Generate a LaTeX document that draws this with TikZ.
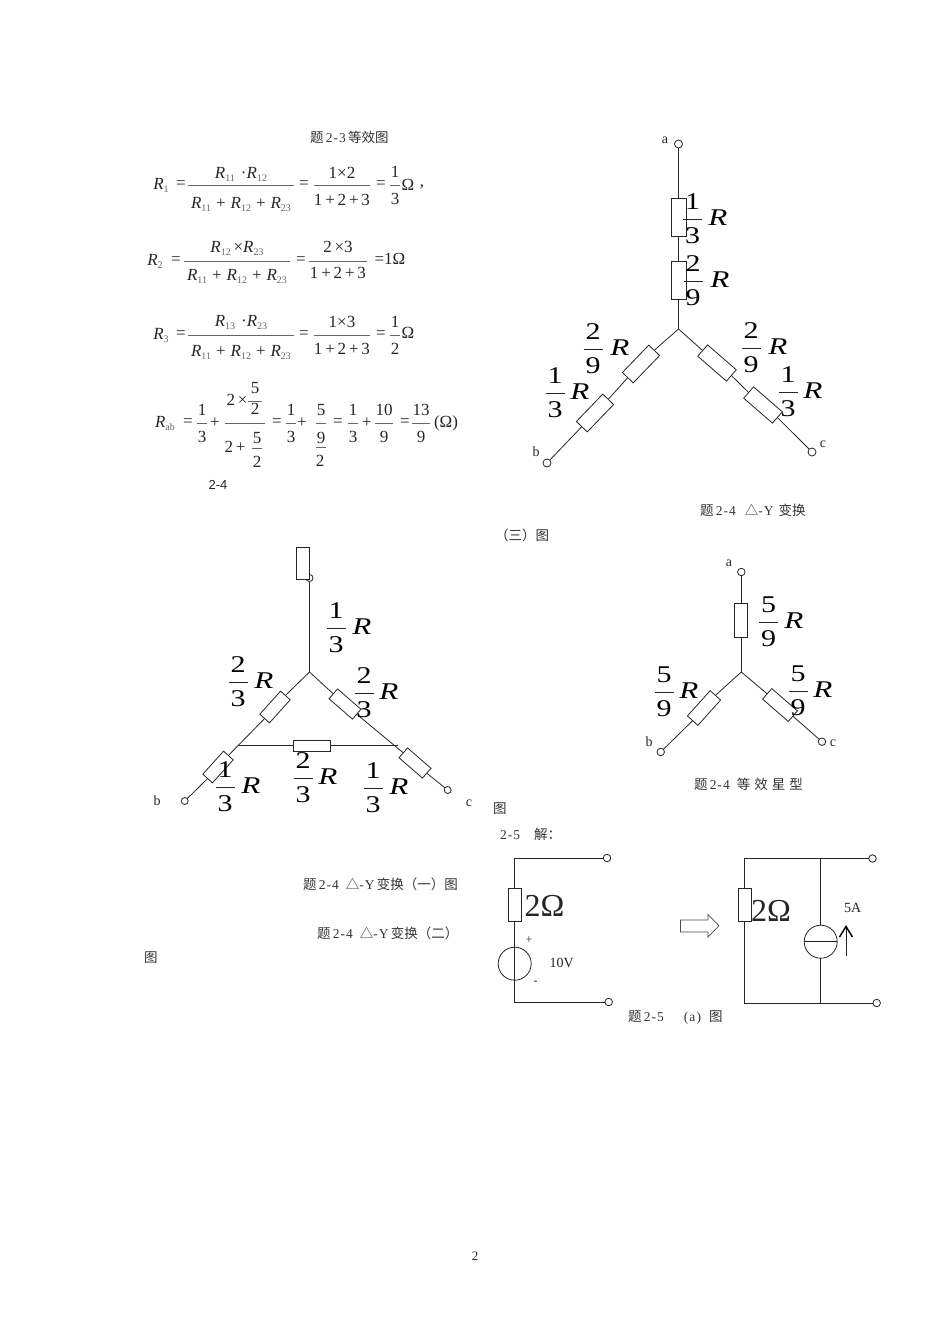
\documentclass[tikz,border=0pt]{standalone}
\usepackage{fontspec}
\setmainfont{Liberation Serif}
\newfontfamily\cjk{Noto Sans CJK SC}
\newfontfamily\mnf[LetterSpace=8]{Liberation Serif}
\newfontfamily\ars{Liberation Sans}
\newfontfamily\wdd[FakeStretch=1.25]{Liberation Serif}
\newfontfamily\wdr[FakeStretch=1.3]{Liberation Serif}
\newcount\mynn
\newcommand\fsz[1]{\fontsize{#1}{#1}\selectfont}
\newcommand\tx[3]{\global\advance\mynn by 1 \node[txt] (t\the\mynn) at (#1,#2) {#3};}
\newcommand\capt[3]{\global\advance\mynn by 1 \node[captxt] (t\the\mynn) at (#1,#2) {#3};}
\newcommand\rsb[1]{{\itshape R}\raisebox{-3pt}{\fsz{10}\color{black!60}#1}}
\newcommand\pls{\hspace{5pt}+\hspace{5pt}}
% fraction with small digits: centre x, bar y, half width, num, den, num offset, den offset
\newcommand\smfr[7]{\draw[mathbar] (#1-#3,#2) -- (#1+#3,#2); \tx{#1}{#2-#6}{#4} \tx{#1}{#2+#7}{#5}}
% large fraction label: bar centre x, bar y, R centre x, num, den
\newcommand\lbl[5]{\global\advance\mynn by 1
  \node[bigd] (t\the\mynn a) at (#1,#2-17) {#4};
  \node[bigd] (t\the\mynn b) at (#1,#2+16.5) {#5};
  \draw[bigbar] (#1-9.5,#2) -- (#1+9.5,#2);
  \node[bigr] (t\the\mynn c) at (#3,#2-1) {R};}
\tikzset{
  txt/.style={inner sep=0pt,outer sep=0pt,text=black!85,font=\fsz{17}},
  captxt/.style={inner sep=0pt,outer sep=0pt,anchor=west,text=black!80,font=\fsz{13.5}},
  smalltxt/.style={inner sep=0pt,outer sep=0pt,text=black!85,font=\fsz{13}},
  mathbar/.style={line width=.5pt,black!60},
  bigbar/.style={line width=.9pt,black!85},
  bigd/.style={inner sep=0pt,outer sep=0pt,font=\wdd\fsz{24}},
  bigr/.style={inner sep=0pt,outer sep=0pt,font=\wdr\itshape\fsz{24}},
  wire/.style={line width=.8pt,black!85},
  res/.style={draw=black!85,line width=.8pt,fill=white,rectangle,inner sep=0pt,outer sep=0pt,minimum width=#1},
  res/.default=38pt,
  term/.style={draw=black!85,line width=.8pt,fill=white,circle,inner sep=0pt,outer sep=0pt,minimum size=8pt},
  src/.style={draw=black!85,line width=.8pt,circle,inner sep=0pt,outer sep=0pt,minimum size=33pt},
}
\begin{document}
\begin{tikzpicture}[x=1pt,y=-1pt]
\fill[white] (0,0) rectangle (950,1344);
\useasboundingbox (0,0) rectangle (950,1344);

% ---------- captions
\capt{310}{137}{{\cjk 题}\,{\mnf 2-3}\,{\cjk 等效图}}
\global\advance\mynn by 1 \node[smalltxt,font=\ars\fsz{13}] (t\the\mynn) at (218,485) {2-4};
\capt{700}{510}{{\cjk 题}\,{\mnf 2-4}\hspace{9pt}{\cjk △}{\mnf -Y}\hspace{5pt}{\cjk 变换}}
\capt{495}{535}{{\cjk （三）图}}
\capt{303}{884}{{\cjk 题}\,{\mnf 2-4}\hspace{7pt}{\cjk △}{\mnf -Y}\,{\cjk 变换（一）图}}
\capt{317}{933}{{\cjk 题}\,{\mnf 2-4}\hspace{7pt}{\cjk △}{\mnf -Y}\,{\cjk 变换（二）}}
\capt{144}{958}{{\cjk 图}}
\capt{493}{809}{{\cjk 图}}
\capt{500}{834}{{\mnf 2-5}\hspace{14pt}{\cjk 解：}}
\capt{694}{784}{{\cjk 题}\,{\mnf 2-4}\hspace{7pt}{\cjk 等\hspace{4pt}效\hspace{4pt}星\hspace{4pt}型}}
\capt{628}{1018}{{\cjk 题}\,{\mnf 2-5}\hspace{20pt}{\mnf (a)}\hspace{8pt}{\cjk 图}}
\global\advance\mynn by 1 \node[smalltxt] (t\the\mynn) at (475,1256) {2};

% ---------- equations
\tx{161}{185}{\rsb{1}} \tx{181}{185}{=}
\smfr{241}{185}{53}{\rsb{11}\hspace{6pt}·\rsb{12}}{\rsb{11}\pls\rsb{12}\pls\rsb{23}}{11}{19}
\tx{304}{185}{=}
\smfr{342}{185}{28}{1×2}{1\,+\,2\,+\,3}{12}{15}
\tx{381}{185}{=} \smfr{395}{185}{5}{1}{3}{13}{14} \tx{408}{185}{Ω} \tx{422}{187}{,}

\tx{155}{261}{\rsb{2}} \tx{176}{261}{=}
\smfr{237}{261}{53}{\rsb{12}\,×\rsb{23}}{\rsb{11}\pls\rsb{12}\pls\rsb{23}}{13}{15}
\tx{301}{261}{=}
\smfr{338}{261}{29}{2\,×3}{1\,+\,2\,+\,3}{14}{12}
\tx{390}{259}{=1Ω}

\tx{161}{335}{\rsb{3}} \tx{181}{335}{=}
\smfr{241}{335}{53}{\rsb{13}\hspace{6pt}·\rsb{23}}{\rsb{11}\pls\rsb{12}\pls\rsb{23}}{13}{17}
\tx{304}{335}{=}
\smfr{342}{335}{28}{1×3}{1\,+\,2\,+\,3}{13}{14}
\tx{381}{335}{=} \smfr{395}{335}{5}{1}{2}{13}{14} \tx{408}{333}{Ω}

\tx{165}{423}{\rsb{ab}} \tx{188}{423}{=}
\smfr{202}{423}{5}{1}{3}{13}{14} \tx{215}{423}{+}
\draw[mathbar] (225,423) -- (265,423);
\tx{237}{400}{2\,×}
\smfr{255}{401}{7}{5}{2}{13}{8}
\tx{235}{447}{2\,+}
\smfr{257}{448}{5}{5}{2}{10}{14}
\tx{277}{423}{=}
\smfr{291}{423}{5}{1}{3}{13}{14} \tx{302}{423}{+}
\smfr{321}{423}{5}{5}{9}{13}{15}
\draw[mathbar] (316,447) -- (326,447);
\tx{320}{461}{2}
\tx{338}{423}{=}
\smfr{353}{423}{5}{1}{3}{13}{14} \tx{367}{423}{+}
\smfr{384}{423}{9}{10}{9}{13}{14}
\tx{405}{423}{=}
\smfr{421}{423}{9}{13}{9}{13}{14}
\tx{446}{423}{(Ω)}

% ---------- figure: top right star
\node[term] (a1) at (678.5,144) {};
\node[term] (b1) at (547,463) {};
\node[term] (c1) at (812,452) {};
\coordinate (o1) at (678.5,329);
\node[res=38pt,minimum height=15pt,rotate=90] (r1a) at (678.5,217) {};
\node[res=38pt,minimum height=15pt,rotate=90] (r1b) at (678.5,280) {};
\node[res=38pt,minimum height=15pt,rotate=46] (r1c) at (641,364) {};
\node[res=38pt,minimum height=15pt,rotate=46] (r1d) at (595,413) {};
\node[res=38pt,minimum height=15pt,rotate=-41] (r1e) at (717,363) {};
\node[res=38pt,minimum height=15pt,rotate=-41] (r1f) at (763,405) {};
\draw[wire] (a1) -- (r1a.east) (r1a.west) -- (r1b.east) (r1b.west) -- (o1);
\draw[wire] (o1) -- (r1c.east) (r1c.west) -- (r1d.east) (r1d.west) -- (b1);
\draw[wire] (o1) -- (r1e.west) (r1e.east) -- (r1f.west) (r1f.east) -- (c1);
\tx{665}{140}{\fsz{14}a} \tx{536}{452}{\fsz{14}b} \tx{823}{444}{\fsz{14}c}
\lbl{692.5}{219}{718}{1}{3}
\lbl{693}{281}{720}{2}{9}
\lbl{593}{349}{620}{2}{9}
\lbl{555}{393}{580}{1}{3}
\lbl{751}{348}{778}{2}{9}
\lbl{788}{392}{813}{1}{3}

% ---------- figure: delta star
\coordinate (o2) at (309.5,672);
\node[term,minimum size=7pt] (a2) at (309.5,578) {};
\node[res=32pt,minimum height=12.5pt,rotate=90] (r2t) at (303,563) {};
\node[term,minimum size=7pt] (b2) at (184.7,801) {};
\node[term,minimum size=7pt] (c2) at (447.7,790) {};
\node[res=31pt,minimum height=13pt,rotate=48] (r2a) at (275,707) {};
\node[res=31pt,minimum height=13pt,rotate=48] (r2b) at (218,767) {};
\node[res=31pt,minimum height=13pt,rotate=-41] (r2c) at (345,704) {};
\node[res=31pt,minimum height=13pt,rotate=-41] (r2d) at (415,763) {};
\node[res=37pt,minimum height=11pt] (r2m) at (312,745.5) {};
\coordinate (jl) at (238,745.5);
\coordinate (jr) at (398,745.5);
\draw[wire] (a2) -- (o2);
\draw[wire] (o2) -- (r2a.east) (r2a.west) -- (r2b.east) (r2b.west) -- (b2);
\draw[wire] (o2) -- (r2c.west) (r2c.east) -- (r2d.west) (r2d.east) -- (c2);
\draw[wire,line width=1pt] (jl) -- (r2m.west) (r2m.east) -- (jr);
\tx{157}{801}{\fsz{14}b} \tx{469}{803}{\fsz{14}c}
\lbl{336}{628}{362}{1}{3}
\lbl{238}{682}{264}{2}{3}
\lbl{364}{693}{389}{2}{3}
\lbl{225}{787}{251}{1}{3}
\lbl{303}{778}{328}{2}{3}
\lbl{373}{788}{399}{1}{3}

% ---------- figure: equivalent star
\coordinate (o3) at (741.3,672);
\node[term,minimum size=7.5pt] (a3) at (741.3,572) {};
\node[term,minimum size=7.5pt] (b3) at (660.7,752) {};
\node[term,minimum size=7.5pt] (c3) at (822,741.7) {};
\node[res=34pt,minimum height=13pt,rotate=90] (r3a) at (741.3,620) {};
\node[res=34pt,minimum height=14pt,rotate=48] (r3b) at (704,708) {};
\node[res=34pt,minimum height=14pt,rotate=-41] (r3c) at (780,705) {};
\draw[wire] (a3) -- (r3a.east) (r3a.west) -- (o3);
\draw[wire] (o3) -- (r3b.east) (r3b.west) -- (b3);
\draw[wire] (o3) -- (r3c.west) (r3c.east) -- (c3);
\tx{729}{563}{\fsz{14}a} \tx{649}{742}{\fsz{14}b} \tx{833}{743}{\fsz{14}c}
\lbl{768.5}{622}{794}{5}{9}
\lbl{664}{692}{689}{5}{9}
\lbl{798}{691}{823}{5}{9}

% ---------- figure: 2-5 left
\node[term,minimum size=7.5pt] (p1) at (607,858) {};
\node[term,minimum size=7.5pt] (q1) at (608.7,1002) {};
\coordinate (p1c) at (514.7,858);
\coordinate (q1c) at (514.7,1002);
\node[res=33pt,minimum height=13pt,rotate=90] (r5a) at (514.7,904.5) {};
\node[src] (s5a) at (514.7,963.7) {};
\draw[wire] (p1) -- (p1c) -- (r5a.east);
\draw[wire] (r5a.west) -- (q1c) -- (q1);
\tx{544.5}{906}{\fsz{32}2Ω}
\tx{529}{940}{\fsz{12}+} \tx{535.5}{983}{\fsz{12}-}
\tx{561.7}{962.7}{\fsz{14}10V}

% block arrow
\draw[line width=.7pt,black!70,fill=white]
  (680.5,920) -- (708,920) -- (708,914.5) -- (719,925.7) -- (708,937) -- (708,932) -- (680.5,932) -- cycle;

% ---------- figure: 2-5 right
\node[term,minimum size=7.5pt] (p2) at (872.5,858.5) {};
\node[term,minimum size=7.5pt] (q2) at (876.7,1003) {};
\coordinate (p2c) at (744.7,858.5);
\coordinate (q2c) at (744.7,1003);
\coordinate (p2m) at (820.7,858.5);
\coordinate (q2m) at (820.7,1003);
\node[res=33pt,minimum height=13pt,rotate=90] (r5b) at (744.7,904.5) {};
\node[src] (s5b) at (820.7,941.7) {};
\draw[wire] (p2) -- (p2c) -- (r5b.east);
\draw[wire] (r5b.west) -- (q2c) -- (q2);
\draw[wire] (p2m) -- (s5b.north) (s5b.south) -- (q2m);
\draw[wire] (s5b.west) -- (s5b.east);
\tx{771}{911}{\fsz{32}2Ω}
\tx{852.7}{908}{\fsz{14}5A}
\coordinate (u1) at (846,956);
\coordinate (u2) at (846,927);
\draw[wire] (u1) -- (u2);
\draw[line width=1.5pt,black] (839.5,937) -- (846,926.5) -- (852.5,937);
\end{tikzpicture}
\end{document}
